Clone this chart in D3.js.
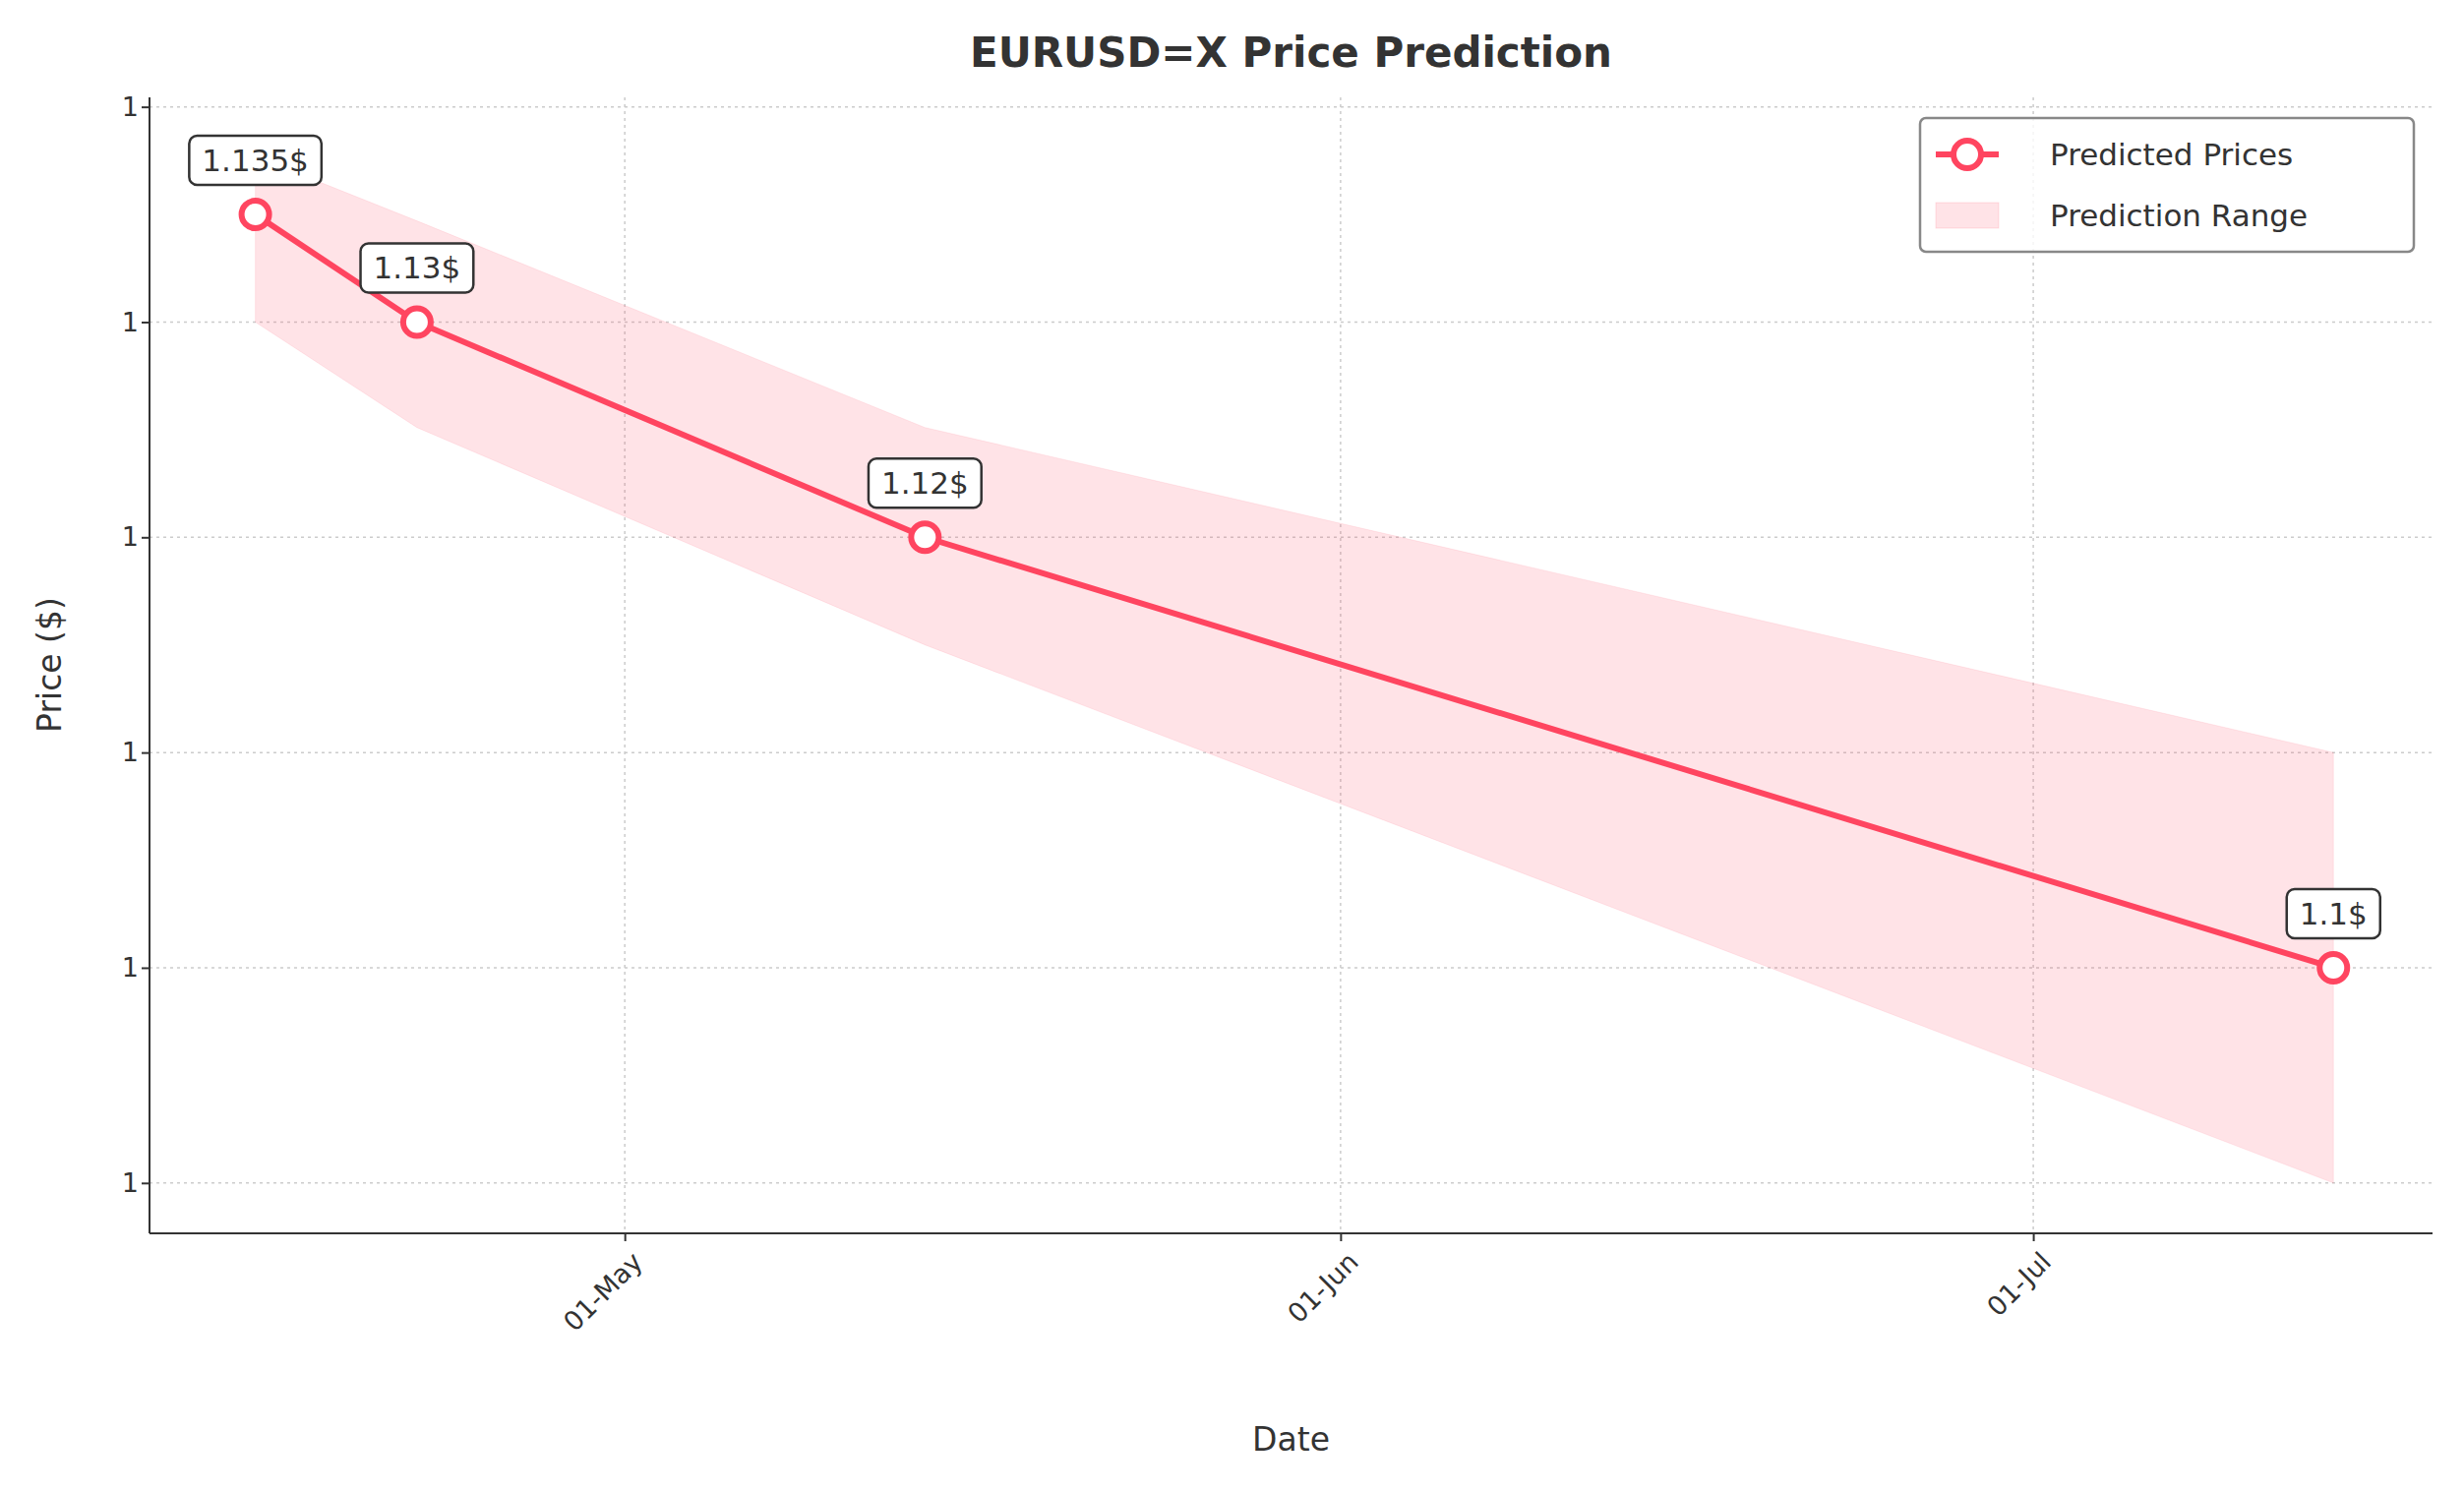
<!DOCTYPE html><html><head><meta charset="utf-8"><script src="https://cdn.jsdelivr.net/npm/d3@7"></script>
<style>body{margin:0;background:#fff}text{font-family:"DejaVu Sans",sans-serif;fill:#333}</style></head><body><svg id="c" width="2505" height="1517"></svg><script>
const dates=["2025-04-15","2025-04-22","2025-05-14","2025-07-14"];
const predicted=[1.135,1.13,1.12,1.10];
const upper=[1.1377,1.1347,1.1251,1.11];
const lower=[1.13,1.1251,1.115,1.09];
const labels=["1.135$","1.13$","1.12$","1.1$"];
const yTicks=[1.09,1.10,1.11,1.12,1.13,1.14];
const xTicks=["2025-05-01","2025-06-01","2025-07-01"];
const P=d3.timeParse("%Y-%m-%d");
const svg=d3.select("#c");
const L=152,R=2473,T=99,B=1254;
const x=d3.scaleTime().domain([new Date(2025,3,10,10),new Date(2025,6,18,7)]).range([L,R]);
const y=d3.scaleLinear().domain([1.08766,1.14044]).range([B,T]);
const red="#ff4560";
svg.append("g").selectAll("line").data(yTicks).join("line").attr("x1",L).attr("x2",R).attr("y1",d=>y(d)).attr("y2",d=>y(d)).attr("stroke","#ccc").attr("stroke-dasharray","3,4").attr("stroke-width",1.5);
svg.append("g").selectAll("line").data(xTicks).join("line").attr("y1",T).attr("y2",B).attr("x1",d=>x(P(d))).attr("x2",d=>x(P(d))).attr("stroke","#ccc").attr("stroke-dasharray","3,4").attr("stroke-width",1.5);
const pts=dates.map((d,i)=>({d:P(d),p:predicted[i],u:upper[i],l:lower[i],t:labels[i]}));
svg.append("path").datum(pts).attr("d",d3.area().x(d=>x(d.d)).y0(d=>y(d.l)).y1(d=>y(d.u))).attr("fill",red).attr("fill-opacity",0.15).attr("stroke",red).attr("stroke-opacity",0.1);
svg.append("path").datum(pts).attr("d",d3.line().x(d=>x(d.d)).y(d=>y(d.p))).attr("fill","none").attr("stroke",red).attr("stroke-width",6);
svg.append("g").selectAll("circle").data(pts).join("circle").attr("cx",d=>x(d.d)).attr("cy",d=>y(d.p)).attr("r",14).attr("fill","#fff").attr("stroke",red).attr("stroke-width",6);
pts.forEach(d=>{const g=svg.append("g").attr("transform",`translate(${x(d.d)},${y(d.p)-55})`);
const t=g.append("text").attr("text-anchor","middle").attr("dy","0.35em").style("font-size","31px").text(d.t);
const w=t.node().getBBox().width+26;
g.insert("rect","text").attr("x",-w/2).attr("y",-25).attr("width",w).attr("height",50).attr("rx",8).attr("fill","#fff").attr("stroke","#333").attr("stroke-width",2.5);});
const ax=svg.append("g").attr("transform",`translate(0,${B})`).call(d3.axisBottom(x).tickValues(xTicks.map(P)).tickFormat(d3.timeFormat("%d-%b")).tickSize(8));
ax.selectAll("text").style("font-size","27px").attr("text-anchor","end").attr("transform","rotate(-45)").attr("dx","-0.3em").attr("dy","0.9em");
const ay=svg.append("g").attr("transform",`translate(${L},0)`).call(d3.axisLeft(y).tickValues(yTicks).tickFormat(d=>Math.round(d)).tickSize(8));
ay.selectAll("text").style("font-size","27px");
[ax,ay].forEach(a=>{a.attr("font-family",null).attr("font-size",null);a.select(".domain").attr("stroke","#333").attr("stroke-width",2);a.selectAll(".tick line").attr("stroke","#333").attr("stroke-width",2);a.selectAll("text").style("fill","#333")});
ax.select(".domain").attr("d",`M${L},0H${R}`);ay.select(".domain").attr("d",`M0,${B}V${T}`);
svg.append("text").attr("x",(L+R)/2).attr("y",68).attr("text-anchor","middle").style("font-size","42px").attr("font-weight","bold").text("EURUSD=X Price Prediction");
svg.append("text").attr("x",(L+R)/2).attr("y",1475).attr("text-anchor","middle").style("font-size","33px").text("Date");
svg.append("text").attr("transform","translate(62,676)rotate(-90)").attr("text-anchor","middle").style("font-size","33px").text("Price ($)");
const lg=svg.append("g").attr("transform","translate(1952,120)");
lg.append("rect").attr("width",502).attr("height",136).attr("rx",6).attr("fill","#fff").attr("fill-opacity",0.8).attr("stroke","#888").attr("stroke-width",2.5);
lg.append("line").attr("x1",16).attr("x2",80).attr("y1",37).attr("y2",37).attr("stroke",red).attr("stroke-width",6);
lg.append("circle").attr("cx",48).attr("cy",37).attr("r",14).attr("fill","#fff").attr("stroke",red).attr("stroke-width",6);
lg.append("rect").attr("x",16).attr("y",86).attr("width",64).attr("height",26).attr("fill",red).attr("fill-opacity",0.15).attr("stroke",red).attr("stroke-opacity",0.15);
lg.append("text").attr("x",132).attr("y",37).attr("dy","0.35em").style("font-size","31px").text("Predicted Prices");
lg.append("text").attr("x",132).attr("y",99).attr("dy","0.35em").style("font-size","31px").text("Prediction Range");
</script></body></html>
